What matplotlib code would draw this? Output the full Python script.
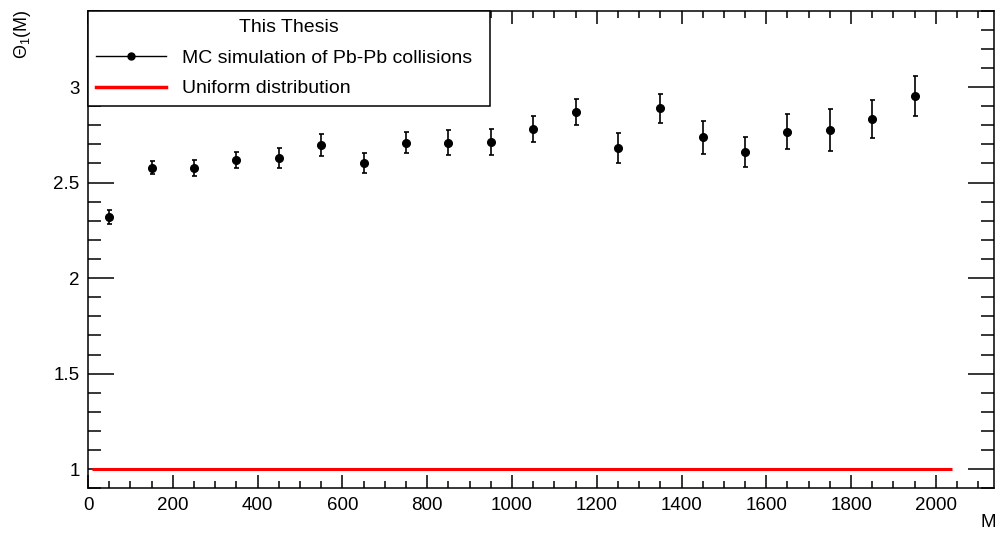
import numpy as np
import matplotlib
matplotlib.use("Agg")
import matplotlib.pyplot as plt
from matplotlib.lines import Line2D
from matplotlib.ticker import MultipleLocator

# MC simulation of Pb-Pb collisions, bins of width 100 in M
m_centres = [50, 150, 250, 350, 450, 550, 650, 750, 850, 950,
             1050, 1150, 1250, 1350, 1450, 1550, 1650, 1750, 1850, 1950]
theta1 = [2.321, 2.579, 2.575, 2.620, 2.629, 2.695, 2.603, 2.709, 2.709, 2.713,
          2.780, 2.868, 2.680, 2.889, 2.737, 2.659, 2.767, 2.775, 2.833, 2.953]
theta1_err = [0.037, 0.033, 0.043, 0.042, 0.053, 0.057, 0.052, 0.056, 0.064, 0.066,
              0.067, 0.069, 0.078, 0.077, 0.088, 0.079, 0.090, 0.112, 0.100, 0.106]

# uniform distribution reference
uniform_m = [9, 2038]
uniform_val = [1.0, 1.0]

plt.rcParams['font.family'] = ['Liberation Sans', 'DejaVu Sans']
plt.rcParams['mathtext.fontset'] = 'custom'
plt.rcParams['mathtext.rm'] = 'Liberation Sans'
plt.rcParams['mathtext.it'] = 'Liberation Sans'

fig = plt.figure(figsize=(9.97, 5.33), dpi=100)
ax = fig.add_axes([0.0883, 0.0839, 0.9082, 0.8961])

ax.plot(uniform_m, uniform_val, color='red', lw=2.2, solid_capstyle='butt', zorder=2)
ax.errorbar(m_centres, theta1, yerr=theta1_err, fmt='o', color='black',
            ms=5.5, elinewidth=1.2, capsize=1.8, capthick=1.2, zorder=3)

ax.set_xlim(0, 2136)
ax.set_ylim(0.9, 3.4)
ax.xaxis.set_major_locator(MultipleLocator(200))
ax.xaxis.set_minor_locator(MultipleLocator(50))
ax.yaxis.set_major_locator(MultipleLocator(0.5))
ax.yaxis.set_minor_locator(MultipleLocator(0.1))
ax.yaxis.set_major_formatter(plt.FuncFormatter(lambda v, p: f"{v:g}"))

ax.tick_params(axis='both', which='both', direction='in', top=True, right=True,
               width=1.1, labelsize=13.5, colors='black')
ax.tick_params(axis='x', which='major', length=9.5, pad=6)
ax.tick_params(axis='x', which='minor', length=4.8)
ax.tick_params(axis='y', which='major', length=19, pad=6)
ax.tick_params(axis='y', which='minor', length=9.5)
for s in ax.spines.values():
    s.set_linewidth(1.1)

fig.text(0.023, 0.982, r'$\Theta_1$(M)', rotation=90, ha='center', va='top', fontsize=13)
fig.text(0.991, 0.02, 'M', ha='center', va='center', fontsize=13.5)

handles = [Line2D([0], [0], color='black', lw=1.0, marker='o', ms=5),
           Line2D([0], [0], color='red', lw=2.5)]
leg = ax.legend(handles, ['MC simulation of Pb-Pb collisions', 'Uniform distribution'],
                title='This Thesis', loc='upper left', bbox_to_anchor=(0, 0, 0.4435, 1),
                mode='expand', borderaxespad=0, fancybox=False, edgecolor='black',
                framealpha=1, fontsize=14, title_fontsize=14, handlelength=3.6,
                handletextpad=0.8, borderpad=0.42, labelspacing=0.68, numpoints=1)
leg.get_frame().set_linewidth(1.1)

fig.savefig('out.png', dpi=100)
